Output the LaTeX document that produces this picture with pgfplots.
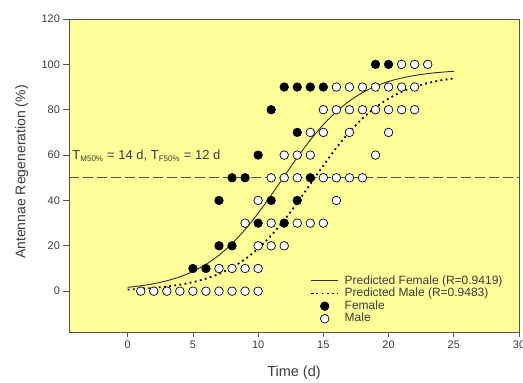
\documentclass[border=0pt]{standalone}
\usepackage{fontspec}
\setmainfont{Liberation Sans}
\usepackage{pgfplots}
\pgfplotsset{compat=1.18}
\definecolor{bgyellow}{RGB}{255,255,153}
\definecolor{framecol}{RGB}{85,85,70}
\definecolor{labcol}{RGB}{60,60,60}
\definecolor{fcurve}{RGB}{50,45,25}
\begin{document}
\begin{tikzpicture}
\begin{axis}[
  name=ax,
  width=450pt, height=313pt, scale only axis,
  xmin=-4.5, xmax=30, ymin=-18, ymax=120,
  xtick={0,5,...,30}, ytick={0,20,...,120},
  xtick pos=lower, ytick pos=left,
  tick align=outside, major tick length=5.5pt,
  tick style={draw=framecol, line width=0.8pt},
  axis line style={draw=framecol, line width=0.8pt},
  axis background/.style={fill=bgyellow},
  /pgf/number format/assume math mode=true,
  ticklabel style={font=\fontsize{11}{13}\selectfont, text=labcol},
  xlabel={Time (d)},
  ylabel={Antennae Regeneration (\%)},
  xlabel style={font=\fontsize{14.5}{16}\selectfont, text=labcol, at={(axis description cs:0.5,-0.131)}, anchor=center},
  ylabel style={font=\fontsize{14}{16}\selectfont, text=labcol, at={(axis description cs:-0.105,0.511)}, anchor=center},
  legend image code/.code={\draw[mark repeat=2,mark phase=2,#1] plot coordinates {(0pt,0pt) (13.5pt,0pt) (27pt,0pt)};},
  legend style={at={(axis cs:14,7.2)}, anchor=north west, draw=none, fill=none, inner sep=0pt, outer sep=0pt,
    font=\fontsize{12}{13}\selectfont, row sep=0.4pt, column sep=5pt,
    nodes={inner sep=0.6pt, text height=8.6pt, text depth=2.4pt, text=labcol}},
  legend cell align=left,
]
\addplot[forget plot, draw=framecol, line width=0.8pt, dash pattern=on 10pt off 4pt] coordinates {(-4.5,50) (30,50)};
\addplot[draw=fcurve, line width=0.9pt, mark=none, smooth] coordinates {
(0,1.69) (1,2.37) (2,3.30) (3,4.59) (4,6.34) (5,8.70) (6,11.82) (7,15.86) (8,20.97) (9,27.15)
(10,34.36) (11,42.33) (12,50.67) (13,58.93) (14,66.62) (15,73.46) (16,79.20) (17,83.87) (18,87.52)
(19,90.33) (20,92.43) (21,93.98) (22,95.11) (23,95.93) (24,96.52) (25,96.94)};
\addlegendentry{Predicted Female (R=0.9419)}
\addplot[draw=black, line width=1.8pt, dash pattern=on 1.8pt off 3.4pt, mark=none, smooth] coordinates {
(0,0.74) (1,1.04) (2,1.46) (3,2.04) (4,2.86) (5,3.99) (6,5.54) (7,7.64) (8,10.45) (9,14.10)
(10,18.78) (11,24.54) (12,31.34) (13,39.01) (14,47.17) (15,55.39) (16,63.20) (17,70.18) (18,76.15)
(19,81.05) (20,84.90) (21,87.86) (22,90.09) (23,91.74) (24,92.94) (25,93.81)};
\addlegendentry{Predicted Male (R=0.9483)}
\addplot[only marks, mark=*, mark size=4.3pt, mark options={draw=black, fill=black, line width=0.6pt}] table {
x y
5 10
6 10
7 20
8 20
7 40
8 50
9 50
10 30
10 60
11 40
11 80
12 30
12 90
13 40
13 70
13 90
14 50
14 90
15 90
19 100
20 100
};
\addlegendentry{Female}
\addplot[only marks, mark=*, mark size=4.3pt, mark options={draw=black, fill=white, line width=0.7pt}] table {
x y
1 0
2 0
3 0
4 0
5 0
6 0
7 0
8 0
9 0
10 0
7 10
8 10
9 10
10 10
10 20
11 20
12 20
9 30
11 30
13 30
14 30
15 30
10 40
16 40
11 50
12 50
13 50
15 50
16 50
17 50
18 50
12 60
13 60
14 60
19 60
14 70
15 70
17 70
20 70
15 80
16 80
17 80
18 80
19 80
20 80
21 80
22 80
16 90
17 90
18 90
19 90
20 90
21 90
22 90
21 100
22 100
23 100
};
\addlegendentry{Male}
\node[anchor=base west, inner sep=0pt, text=labcol, font=\fontsize{13}{15}\selectfont] at (axis cs:-4.25,58)
  {T\textsubscript{\fontsize{8}{9}\selectfont M50\%} = 14 d, T\textsubscript{\fontsize{8}{9}\selectfont F50\%} = 12 d};
\end{axis}
\pgfresetboundingbox
\useasboundingbox ([xshift=-69pt,yshift=-51pt]ax.south west) rectangle ([xshift=4pt,yshift=19pt]ax.north east);
\end{tikzpicture}
\end{document}
